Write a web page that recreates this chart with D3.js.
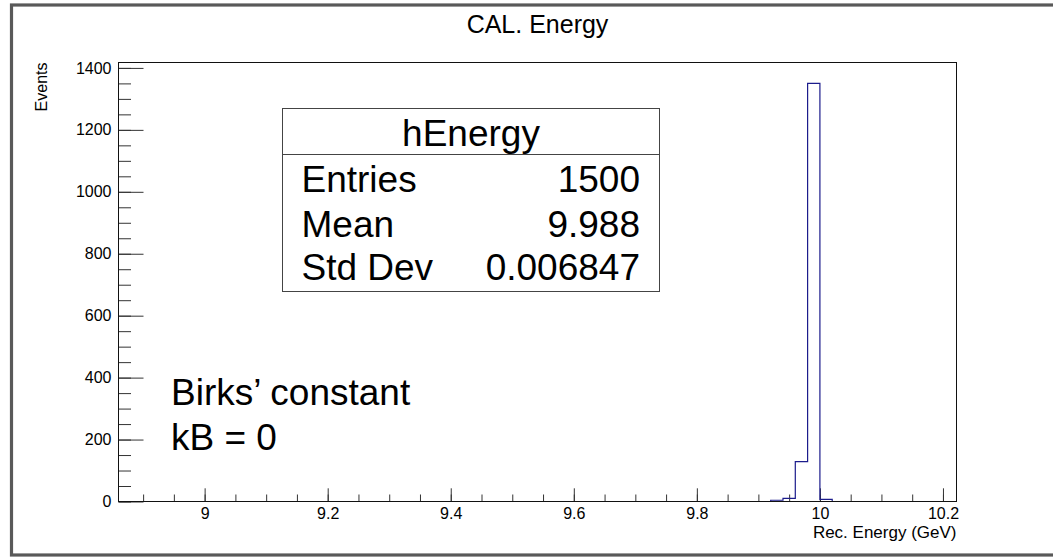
<!DOCTYPE html>
<html>
<head>
<meta charset="utf-8">
<script src="https://cdn.jsdelivr.net/npm/d3@7"></script>
<style>
  body { margin: 0; background: #fff; }
  text { font-family: "Liberation Sans", Arial, Helvetica, sans-serif; fill: #000; }
</style>
</head>
<body>
<svg id="chart" width="1053" height="557"></svg>
<script>
// histogram bins (lower edges, GeV) and counts
const binLow = [9.92, 9.94, 9.96, 9.98, 10.00];
const binWidth = 0.02;
const counts = [4, 10, 129, 1350, 7];

const xMajorTicks = [9, 9.2, 9.4, 9.6, 9.8, 10, 10.2];
const yMajorTicks = [0, 200, 400, 600, 800, 1000, 1200, 1400];

const statsLabels = ['Entries', 'Mean', 'Std Dev'];
const statsValues = ['1500', '9.988', '0.006847'];

const X_DOMAIN = [8.86, 10.222];
const Y_MAX = 1417.5;

const LEFT = 118.5, RIGHT = 956.5, TOP = 62.5, BOTTOM = 501.5;

const svg = d3.select('#chart');

// canvas border
svg.append('rect')
  .attr('x', 11.5).attr('y', 5)
  .attr('width', 1060).attr('height', 550)
  .attr('fill', 'none')
  .attr('stroke', '#595959')
  .attr('stroke-width', 3.2);

const x = d3.scaleLinear().domain(X_DOMAIN).range([LEFT, RIGHT]);
const y = d3.scaleLinear().domain([0, Y_MAX]).range([BOTTOM, TOP]);

// minor ticks
svg.append('g')
  .attr('transform', `translate(0,${BOTTOM})`)
  .call(d3.axisBottom(x)
    .tickValues(d3.range(8.9, 10.21, 0.05))
    .tickSizeInner(-7).tickSizeOuter(0).tickFormat(''))
  .call(g => g.select('.domain').remove())
  .call(g => g.selectAll('line').attr('stroke', '#333'));

svg.append('g')
  .attr('transform', `translate(${LEFT},0)`)
  .call(d3.axisLeft(y)
    .tickValues(d3.range(0, 1401, 50))
    .tickSizeInner(-12.5).tickSizeOuter(0).tickFormat(''))
  .call(g => g.select('.domain').remove())
  .call(g => g.selectAll('line').attr('stroke', '#333'));

// major ticks with labels
const xAxis = svg.append('g')
  .attr('transform', `translate(0,${BOTTOM})`)
  .call(d3.axisBottom(x)
    .tickValues(xMajorTicks)
    .tickSizeInner(-13.2).tickSizeOuter(0).tickPadding(6)
    .tickFormat(d3.format('~g')));
xAxis.select('.domain').remove();
xAxis.selectAll('line').attr('stroke', '#333');
xAxis.selectAll('text')
  .attr('font-size', 16)
  .attr('font-family', '"Liberation Sans", Arial, sans-serif')
  .attr('fill', '#000');

const yAxis = svg.append('g')
  .attr('transform', `translate(${LEFT},0)`)
  .call(d3.axisLeft(y)
    .tickValues(yMajorTicks)
    .tickSizeInner(-25).tickSizeOuter(0).tickPadding(7)
    .tickFormat(d3.format('d')));
yAxis.select('.domain').remove();
yAxis.selectAll('line').attr('stroke', '#333');
yAxis.selectAll('text')
  .attr('font-size', 16)
  .attr('font-family', '"Liberation Sans", Arial, sans-serif')
  .attr('fill', '#000');

// histogram outline
const pts = binLow.map((lo, i) => [lo, counts[i]]);
pts.push([binLow[binLow.length - 1] + binWidth, 0]);

const line = d3.line()
  .x(d => x(d[0]))
  .y(d => y(d[1]))
  .curve(d3.curveStepAfter);

svg.append('path')
  .datum([[binLow[0], 0]].concat(pts))
  .attr('d', line)
  .attr('fill', 'none')
  .attr('stroke', '#1c1c8c')
  .attr('stroke-width', 1.2);

// frame
svg.append('rect')
  .attr('x', LEFT).attr('y', TOP)
  .attr('width', RIGHT - LEFT).attr('height', BOTTOM - TOP)
  .attr('fill', 'none')
  .attr('stroke', '#111')
  .attr('stroke-width', 1);

// titles
svg.append('text')
  .attr('x', (LEFT + RIGHT) / 2).attr('y', 33)
  .attr('text-anchor', 'middle')
  .attr('font-size', 25)
  .text('CAL. Energy');

svg.append('text')
  .attr('x', RIGHT).attr('y', 538)
  .attr('text-anchor', 'end')
  .attr('font-size', 17)
  .text('Rec. Energy (GeV)');

svg.append('text')
  .attr('transform', `translate(47,${TOP}) rotate(-90)`)
  .attr('text-anchor', 'end')
  .attr('font-size', 16)
  .text('Events');

// stats box
const box = svg.append('g');
box.append('rect')
  .attr('x', 282.5).attr('y', 108.5)
  .attr('width', 377).attr('height', 183)
  .attr('fill', '#fff')
  .attr('stroke', '#444')
  .attr('stroke-width', 1);
box.append('line')
  .attr('x1', 282.5).attr('x2', 659.5)
  .attr('y1', 154.5).attr('y2', 154.5)
  .attr('stroke', '#444');
box.append('text')
  .attr('x', 471).attr('y', 146)
  .attr('text-anchor', 'middle')
  .attr('font-size', 37)
  .text('hEnergy');

const rowY = [191.5, 236.5, 280];
statsLabels.forEach((lab, i) => {
  box.append('text')
    .attr('x', 301.5).attr('y', rowY[i])
    .attr('font-size', 37)
    .text(lab);
  box.append('text')
    .attr('x', 640).attr('y', rowY[i])
    .attr('text-anchor', 'end')
    .attr('font-size', 37)
    .text(statsValues[i]);
});

// annotation
svg.append('text')
  .attr('x', 171).attr('y', 405)
  .attr('font-size', 37)
  .text('Birks\u2019 constant');
svg.append('text')
  .attr('x', 171).attr('y', 450)
  .attr('font-size', 37)
  .text('kB = 0');
</script>
</body>
</html>
